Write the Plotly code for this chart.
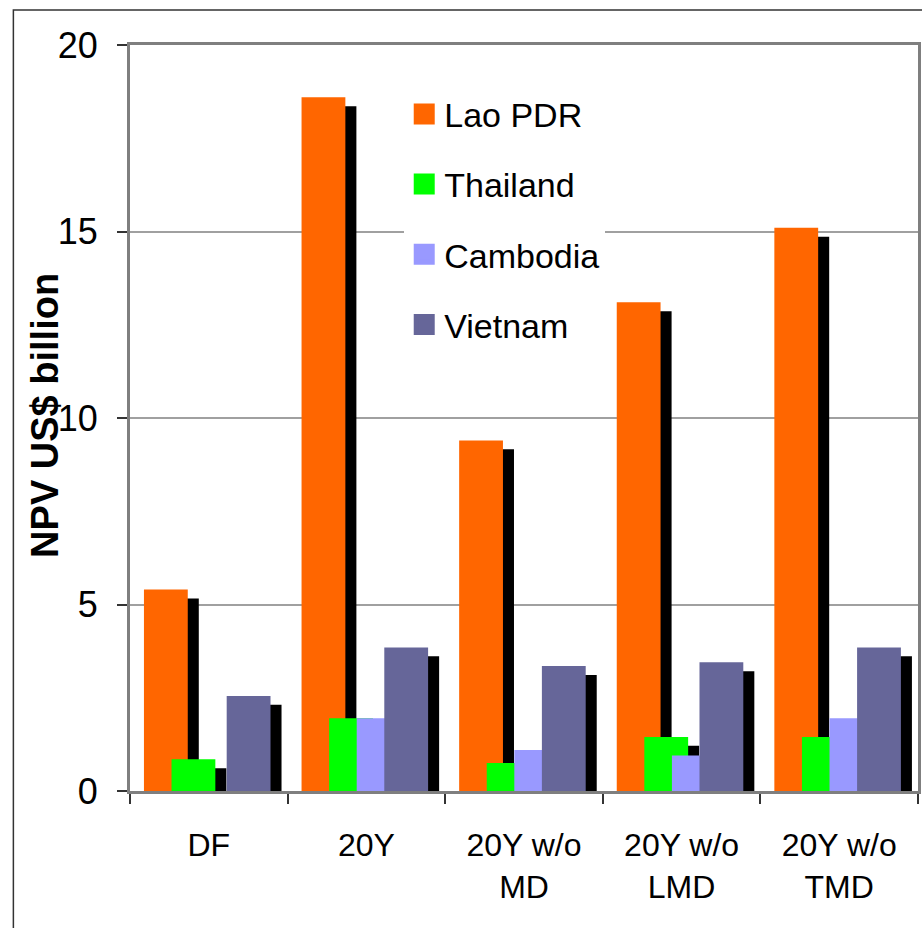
import plotly.graph_objects as go

categories = ["DF", "20Y", "20Y w/o<br>MD", "20Y w/o<br>LMD", "20Y w/o<br>TMD"]
series_names = ["Lao PDR", "Thailand", "Cambodia", "Vietnam"]
lao_pdr = [5.4, 18.6, 9.4, 13.1, 15.1]
thailand = [0.85, 1.95, 0.75, 1.45, 1.45]
cambodia = [0.0, 1.95, 1.1, 0.95, 1.95]
vietnam = [2.55, 3.85, 3.35, 3.45, 3.85]
y_ticks = [0, 5, 10, 15, 20]
y_title = "NPV US$ billion"

series_values = [lao_pdr, thailand, cambodia, vietnam]
colors = ["#FF6600", "#00FF00", "#9999FF", "#666699"]

# style constants (category units / data units)
BAR_W = 0.278
STEP = 0.175
FIRST_OFF = -0.4115
SHADOW_DX = 0.07
SHADOW_DY = 0.24

fig = go.Figure()
for i, (name, vals, col) in enumerate(zip(series_names, series_values, colors)):
    off = FIRST_OFF + i * STEP
    fig.add_trace(go.Bar(
        x=categories, y=[max(0, v - SHADOW_DY) if v > 0 else 0 for v in vals],
        width=BAR_W, offset=off + SHADOW_DX,
        marker=dict(color="black", line=dict(width=0)),
        showlegend=False, hoverinfo="skip", legendgroup=name,
    ))
    fig.add_trace(go.Bar(
        x=categories, y=vals, name=name,
        width=BAR_W, offset=off,
        marker=dict(color=col, line=dict(width=0)),
        legendgroup=name, showlegend=False,
    ))
    # legend entry with a larger square swatch
    fig.add_trace(go.Scatter(
        x=[None], y=[None], mode="markers", name=name, legendgroup=name,
        marker=dict(symbol="square", size=16, color=col, line=dict(color=col, width=5)),
        hoverinfo="skip",
    ))

fig.update_layout(
    width=922, height=928,
    margin=dict(l=130, r=1, t=45, b=137),
    barmode="overlay",
    plot_bgcolor="white", paper_bgcolor="white",
    font=dict(family="Liberation Sans, Arial, sans-serif", color="black"),
    legend=dict(
        x=0.348, y=0.946, xanchor="left", yanchor="top",
        bgcolor="white", borderwidth=0,
        font=dict(family="Liberation Sans, Arial", size=34),
        tracegroupgap=23, itemwidth=30,
    ),
    shapes=[dict(type="rect", xref="paper", yref="paper",
                 x0=-0.148, x1=1.2, y0=-0.3, y1=1.047,
                 line=dict(color="#333333", width=1.5), layer="below")],
    annotations=[dict(text="<b>" + y_title + "</b>", textangle=-90,
                      xref="paper", yref="paper", x=-0.108, y=0.504,
                      xanchor="center", yanchor="middle", showarrow=False,
                      font=dict(size=38, family="Liberation Sans, Arial"))],
)
fig.update_xaxes(
    type="category", range=[-0.5, 4.5],
    showline=True, linecolor="#7f7f7f", linewidth=3, mirror=True,
    ticks="outside", tickson="boundaries", ticklen=10, tickcolor="#333333", tickwidth=2,
    showgrid=False,
    tickfont=dict(size=32),
    ticklabelstandoff=24,
)
fig.update_yaxes(
    range=[0, 20], tickvals=y_ticks,
    showline=True, linecolor="#7f7f7f", linewidth=3, mirror=True,
    ticks="outside", ticklen=10, tickcolor="#333333", tickwidth=2,
    showgrid=True, gridcolor="#a0a0a0", gridwidth=1.5,
    zeroline=False,
    tickfont=dict(size=36),
    ticklabelstandoff=12,
)
fig.write_html("out.html")
